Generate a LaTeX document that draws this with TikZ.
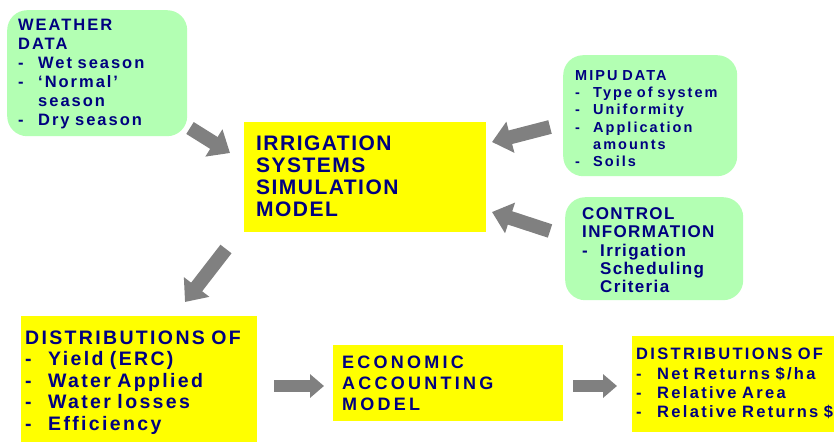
\documentclass[tikz,border=0pt]{standalone}
\usepackage{fontspec}
\setmainfont{Liberation Sans}
\newfontfamily\fweather{Liberation Sans}[LetterSpace=12,WordSpace=1.6]
\newfontfamily\fsim{Liberation Sans}[LetterSpace=7,WordSpace=1.6]
\newfontfamily\fmipu{Liberation Sans}[LetterSpace=14,WordSpace=1.6]
\newfontfamily\fctrl{Liberation Sans}[LetterSpace=8,WordSpace=1.6]
\newfontfamily\fdista{Liberation Sans}[LetterSpace=12,WordSpace=1.6]
\newfontfamily\fecon{Liberation Sans}[LetterSpace=18,WordSpace=1.6]
\newfontfamily\fdistb{Liberation Sans}[LetterSpace=14,WordSpace=1.6]
\usetikzlibrary{arrows.meta}
\definecolor{navy}{HTML}{000080}
\definecolor{paleg}{HTML}{B3FFB3}
\definecolor{yel}{HTML}{FFFF00}
\definecolor{arrg}{HTML}{808080}
\newcommand{\itm}[2]{\makebox[#1][l]{-}#2}
\newcommand{\cnt}[2]{\hspace*{#1}#2}
\begin{document}
\begin{tikzpicture}[x=1pt,y=-1pt,
  greenbox/.style={fill=paleg,rounded corners=20pt,anchor=north west,align=left,text=navy,inner ysep=0pt},
  yelbox/.style={fill=yel,anchor=north west,align=left,text=navy,inner ysep=0pt},
  bigarrow/.style={draw=arrg,line width=14pt,-{Triangle[width=31pt,length=19pt,fill=arrg]}},
  smallarrow/.style={draw=arrg,line width=11.5pt,-{Triangle[width=23pt,length=14pt,fill=arrg]}}]
\useasboundingbox (0,0) rectangle (834,442);
% boxes
\node[greenbox,minimum width=180pt,minimum height=126pt,text width=158pt,inner xsep=11pt,
  text height=9.9pt,text depth=94.5pt,
  font=\fweather\bfseries\fontsize{16.5}{18.9}\selectfont] (weather) at (7,10)
 {WEATHER\\DATA\\\itm{20pt}{Wet season}\\\itm{20pt}{‘Normal’}\\\cnt{20pt}{season}\\\itm{20pt}{Dry season}};
\node[yelbox,minimum width=242pt,minimum height=110pt,text width=218pt,inner xsep=12pt,
  text height=12.6pt,text depth=66.6pt,
  font=\fsim\bfseries\fontsize{21}{22.2}\selectfont] (sim) at (244,122)
 {IRRIGATION\\SYSTEMS\\SIMULATION\\MODEL};
\node[greenbox,minimum width=174pt,minimum height=121pt,text width=150pt,inner xsep=12pt,
  text height=15.5pt,text depth=86.5pt,
  font=\fmipu\bfseries\fontsize{14.5}{17.3}\selectfont] (mipu) at (563,55)
 {MIPU DATA\\\itm{18pt}{Type of system}\\\itm{18pt}{Uniformity}\\\itm{18pt}{Application}\\\cnt{18pt}{amounts}\\\itm{18pt}{Soils}};
\node[greenbox,minimum width=178pt,minimum height=103pt,text width=144pt,inner xsep=17pt,
  text height=15pt,text depth=73.4pt,
  font=\fctrl\bfseries\fontsize{17}{18.35}\selectfont] (ctrl) at (565,197)
 {CONTROL\\INFORMATION\\\itm{18pt}{Irrigation}\\\cnt{18pt}{Scheduling}\\\cnt{18pt}{Criteria}};
\node[yelbox,minimum width=236pt,minimum height=126pt,text width=228pt,inner xsep=4pt,
  text height=16pt,text depth=86pt,
  font=\fdista\bfseries\fontsize{19.5}{21.5}\selectfont] (dista) at (21,316)
 {DISTRIBUTIONS OF\\\itm{23pt}{Yield (ERC)}\\\itm{23pt}{Water Applied}\\\itm{23pt}{Water losses}\\\itm{23pt}{Efficiency}};
\node[yelbox,minimum width=230pt,minimum height=76pt,text width=212pt,inner xsep=9pt,
  text height=12.6pt,text depth=42.6pt,
  font=\fecon\bfseries\fontsize{18}{21.3}\selectfont] (econ) at (333,345)
 {ECONOMIC\\ACCOUNTING\\MODEL};
\node[yelbox,minimum width=268pt,minimum height=96pt,text width=260pt,inner xsep=4pt,
  text height=9pt,text depth=57.6pt,
  font=\fdistb\bfseries\fontsize{16.5}{19.2}\selectfont] (distb) at (632,336)
 {DISTRIBUTIONS OF\\\itm{21pt}{Net Returns \$/ha}\\\itm{21pt}{Relative Area}\\\itm{21pt}{Relative Returns \$}};
% arrow end points
\coordinate (a1s) at (190,128); \coordinate (a1e) at (230,153);
\coordinate (a2s) at (550,127); \coordinate (a2e) at (492,142);
\coordinate (a3s) at (550,231); \coordinate (a3e) at (492,212);
\coordinate (a4s) at (226,249); \coordinate (a4e) at (185,302);
\coordinate (a5s) at (274,386); \coordinate (a5e) at (324,386);
\coordinate (a6s) at (573,386); \coordinate (a6e) at (617,386);
\draw[bigarrow] (a1s) -- (a1e);
\draw[bigarrow] (a2s) -- (a2e);
\draw[bigarrow] (a3s) -- (a3e);
\draw[bigarrow] (a4s) -- (a4e);
\draw[smallarrow] (a5s) -- (a5e);
\draw[smallarrow] (a6s) -- (a6e);
\end{tikzpicture}
\end{document}
